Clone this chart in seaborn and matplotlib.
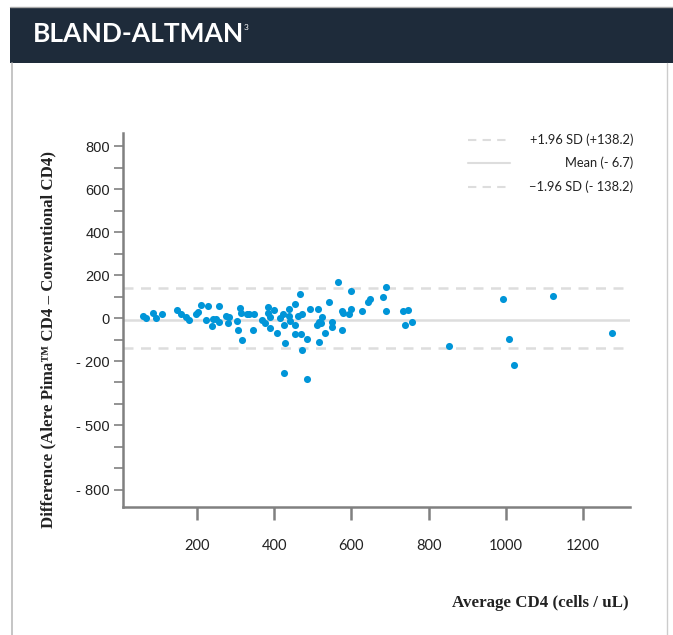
import numpy as np
import pandas as pd
import matplotlib.pyplot as plt
import seaborn as sns
from matplotlib.lines import Line2D
from matplotlib.patches import Rectangle

# average CD4 (cells/uL) and difference (Pima - conventional)
avg_cd4 = [60, 68, 86, 93, 109, 147, 159, 172, 179, 196, 203, 210, 228, 224, 238, 240, 248, 258, 258, 275,
           282, 279, 304, 307, 311, 314, 317, 330, 335, 347, 345,
           369, 375, 383, 384, 390, 399, 389, 406, 416, 423, 426, 428, 424, 439, 439, 440, 453, 467, 461, 453,
           453, 470, 473, 473, 486, 484, 493, 514, 510, 515, 520, 524, 517, 531, 541, 550, 550, 564, 575, 577,
           575, 594, 598, 598,
           628, 644, 649, 682, 689, 689, 733, 747, 740, 757, 853,
           994, 1008, 1022, 1122, 1276]
diff_cd4 = [9, 1, 25, 1, 17, 37, 20, 5, -9, 19, 26, 62, 56, -11, -39, -3, -5, 56, -17, 11,
            3, -25, -14, -56, 46, 22, -102, 17, 17, 17, -54,
            -8, -25, 53, 25, 6, 36, -48, -70, 1, 17, -33, -115, -256, 40, 9, -12, 67, 110, 11, -33,
            -74, -74, 17, -149, -98, -284, 40, 40, -33, -17, -25, 5, -110, -68, 76, -17, -40, 169, 34, 22,
            -54, 19, 126, 40,
            33, 74, 90, 96, 146, 33, 33, 39, -33, -17, -130,
            88, -98, -219, 104, -71]

mean_diff = -6.7
upper_loa = 138.2
lower_loa = -138.2

x_ticks = [200, 400, 600, 800, 1000, 1200]
y_ticks = [800, 600, 400, 200, 0, -200, -500, -800]
y_ticklabels = ["800", "600", "400", "200", "0", "- 200", "- 500", "- 800"]
y_minor = [700, 500, 300, 100, -100, -300, -400, -600, -700]

legend_labels = ["+1.96 SD (+138.2)", "Mean (- 6.7)", "\u22121.96 SD (- 138.2)"]

df = pd.DataFrame({"avg": avg_cd4, "diff": diff_cd4})

sns.set_style("white")
plt.rcParams["font.family"] = ["Lato", "DejaVu Sans"]

fig = plt.figure(figsize=(6.73, 6.35), dpi=100)
W, H = 673, 635

# header band + panel frame
fig.patches.append(Rectangle((10 / W, 1 - 63 / H), 1, 56 / H, transform=fig.transFigure,
                             facecolor="#1e2b3a", edgecolor="none", zorder=0))
fig.lines.append(Line2D([10 / W, 1], [1 - 7 / H, 1 - 7 / H], transform=fig.transFigure,
                        color="#aaaaaa", lw=1))
fig.lines.append(Line2D([12 / W, 12 / W], [1 - 63 / H, 0], transform=fig.transFigure,
                        color="#bbbbbb", lw=1.2))
fig.lines.append(Line2D([667 / W, 667 / W], [1 - 63 / H, 0], transform=fig.transFigure,
                        color="#cccccc", lw=1))
fig.text(33 / W, 1 - 34 / H, "BLAND-ALTMAN", color="white", fontsize=19, fontweight="bold",
         va="center", ha="left")
fig.text(244 / W, 1 - 28 / H, "3", color="white", fontsize=6, va="center", ha="left")

ax = fig.add_axes([123 / W, 1 - 507 / H, (630 - 123) / W, (507 - 133) / H])

ax.axhline(upper_loa, color="#dddddd", lw=1.8, ls=(0, (4, 3)), zorder=1)
ax.axhline(mean_diff, color="#dddddd", lw=1.8, zorder=1)
ax.axhline(lower_loa, color="#dddddd", lw=1.8, ls=(0, (4, 3)), zorder=1)

sns.scatterplot(data=df, x="avg", y="diff", ax=ax, color="#0095d8", s=26, linewidth=0, zorder=3)

ax.set_xlim(8, 1322)
ax.set_ylim(-880, 862)
ax.set_xticks(x_ticks)
ax.set_xticklabels([str(v) for v in x_ticks], fontsize=10.5, color="#222222")
ax.set_yticks(y_ticks)
ax.set_yticklabels(y_ticklabels, fontsize=10.5, color="#222222", family="Liberation Sans")
ax.set_yticks(y_minor, minor=True)

for side in ["top", "right"]:
    ax.spines[side].set_visible(False)
for side in ["left", "bottom"]:
    ax.spines[side].set_color("#808080")
    ax.spines[side].set_linewidth(1.8)

ax.tick_params(axis="x", which="major", direction="out", length=9, width=1.8, color="#808080", pad=14)
ax.tick_params(axis="y", which="both", direction="out", length=6.5, width=1.2, color="#808080", pad=3)
ax.tick_params(left=True, bottom=True)
ax.tick_params(axis="y", which="minor", left=True)
ax.set_xlabel("")
ax.set_ylabel("")

fig.text(48 / W, 1 - 339 / H, "Difference (Alere Pima\u2122 CD4 \u2013 Conventional CD4)",
         rotation=90, ha="center", va="center", fontsize=12.2, fontweight="bold",
         family=["Liberation Serif", "DejaVu Serif"], color="#222222")
fig.text(629 / W, 1 - 603 / H, "Average CD4 (cells / uL)", ha="right", va="center",
         fontsize=12.2, fontweight="bold", family=["Liberation Serif", "DejaVu Serif"], color="#222222")

# legend
rows = [140, 163, 187]
styles = [(0, (4, 3)), "-", (0, (4, 3))]
for r, st, lab in zip(rows, styles, legend_labels):
    yy = 1 - r / H
    fig.lines.append(Line2D([468 / W, 510 / W], [yy, yy], transform=fig.transFigure,
                            color="#dddddd", lw=1.5, ls=st))
    fig.text(633 / W, yy, lab, ha="right", va="center", fontsize=9.3, color="#222222")

fig.savefig("out.png", dpi=100)
